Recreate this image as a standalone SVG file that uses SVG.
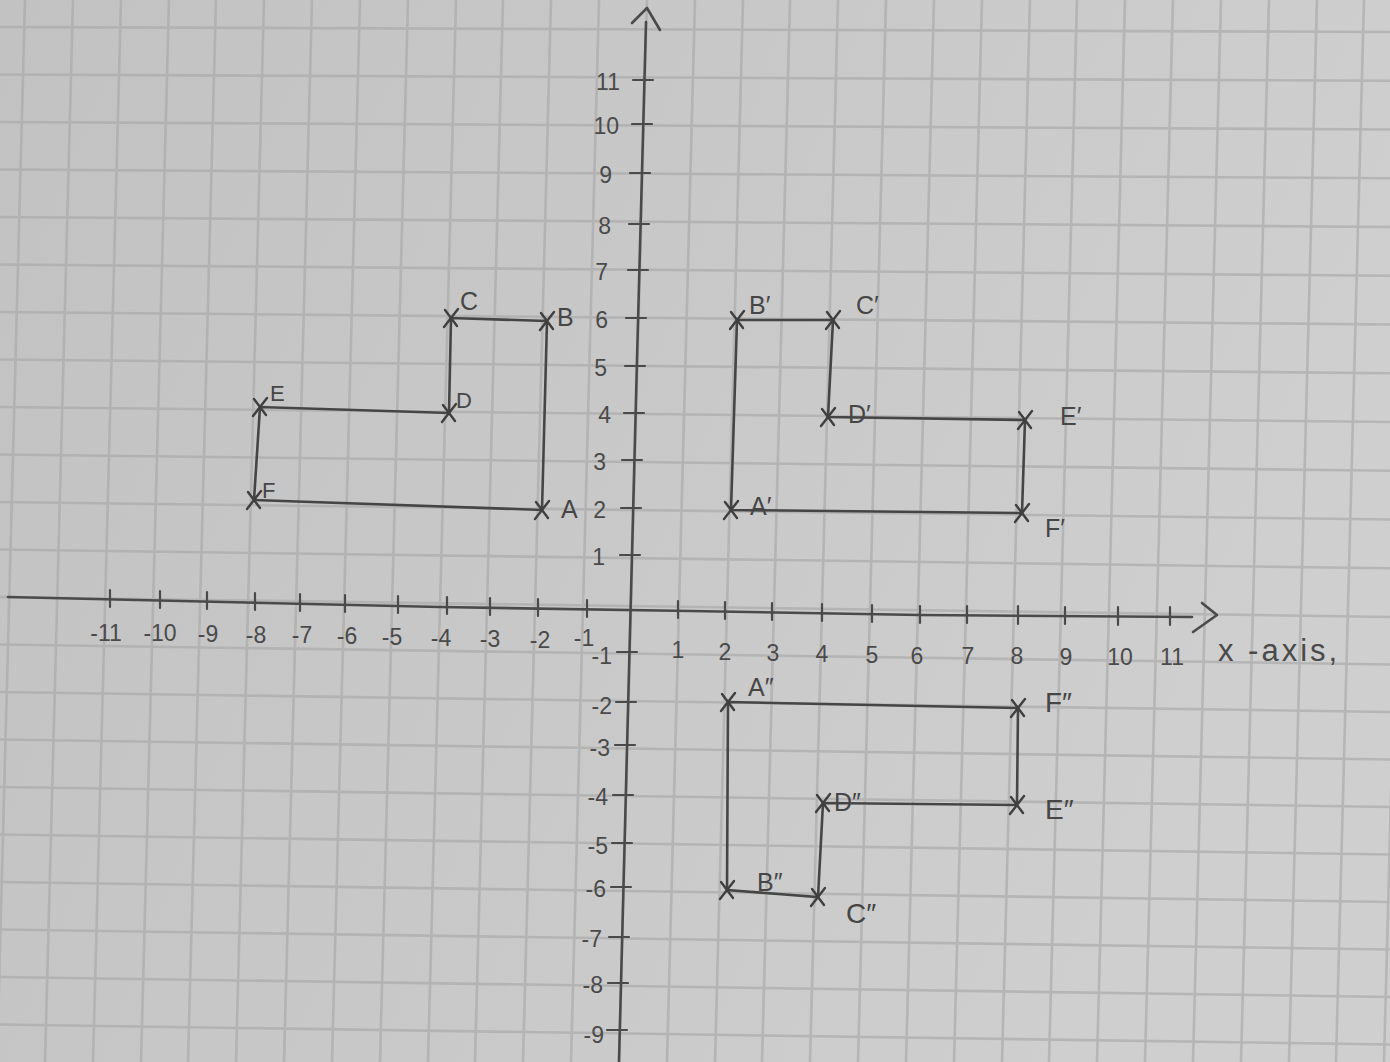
<svg xmlns="http://www.w3.org/2000/svg" width="1390" height="1062" viewBox="0 0 1390 1062">
<defs>
<linearGradient id="paper" x1="0" y1="0" x2="1" y2="0.3">
<stop offset="0" stop-color="#c2c2c2"/>
<stop offset="0.5" stop-color="#c8c8c8"/>
<stop offset="1" stop-color="#cfcfcf"/>
</linearGradient>
<style>
.grid{stroke:#a9a9a9;stroke-width:2.6;fill:none;opacity:0.65}
.axis{stroke:#4a4a4a;stroke-width:2.6;fill:none;stroke-linecap:round;stroke-linejoin:round}
.tick{stroke:#4a4a4a;stroke-width:2.2;fill:none;stroke-linecap:round}
.edge{stroke:#454545;stroke-width:2.6;fill:none;stroke-linecap:round}
.cross{stroke:#3f3f3f;stroke-width:2.4;fill:none;stroke-linecap:round}
.num{font-family:"Liberation Sans",Arial,sans-serif;font-size:23px;fill:#4a4a4a}
.lab{font-family:"Liberation Sans",Arial,sans-serif;font-size:25px;fill:#464646;stroke:none}
.sm{font-size:22px}
.ax{font-family:"Liberation Sans",Arial,sans-serif;font-size:31px;fill:#4a4a4a;letter-spacing:3px}
</style>
</defs>
<rect x="0" y="0" width="1390" height="1062" fill="url(#paper)"/>
<g id="grid" class="grid">
<path d="M25,0 L-3,1062 M73,0 L45,1062 M121,0 L93,1062 M169,0 L141,1062 M216,0 L188,1062 M264,0 L236,1062 M312,0 L284,1062 M360,0 L332,1062 M408,0 L380,1062 M456,0 L428,1062 M503,0 L475,1062 M551,0 L523,1062 M599,0 L571,1062 M647,0 L619,1062 M695,0 L667,1062 M743,0 L715,1062 M790,0 L762,1062 M838,0 L810,1062 M886,0 L858,1062 M934,0 L906,1062 M982,0 L954,1062 M1030,0 L1002,1062 M1077,0 L1049,1062 M1125,0 L1097,1062 M1173,0 L1145,1062 M1221,0 L1193,1062 M1269,0 L1241,1062 M1317,0 L1289,1062 M1364,0 L1336,1062 M1412,0 L1384,1062"/>
<path d="M0,27 L1390,32 M0,74.5 L1390,80.8 M0,122 L1390,129.5 M0,169.5 L1390,178.3 M0,217 L1390,227 M0,264.5 L1390,275.8 M0,312 L1390,324.5 M0,359.5 L1390,373.3 M0,407 L1390,422 M0,454.5 L1390,470.8 M0,502 L1390,519.5 M0,549.5 L1390,568.3 M0,597 L1390,617 M0,644.5 L1390,664.5 M0,692 L1390,712 M0,739.5 L1390,759.5 M0,787 L1390,807 M0,834.5 L1390,854.5 M0,882 L1390,902 M0,929.5 L1390,949.5 M0,977 L1390,997 M0,1024.5 L1390,1044.5"/>
</g>
<g id="axes">
<path id="x-axis" class="axis" d="M8,597 L440,607 L690,611 L920,615 L1192,617"/>
<path class="axis" d="M1202,603 L1217,615 L1193,632"/>
<path id="y-axis" class="axis" d="M646,22 L637,360 L628,710 L619,1062"/>
<path class="axis" d="M632,23 L647,8 L660,30"/>
<g class="tick">
<path d="M110,590 V607 M160,591 V608 M207,592 V609 M255,593 V610 M300,594 V611 M345,595 V612 M398,596 V613 M447,597 V614 M490,598 V615 M538,599 V616 M587,600 V617 M678,601 V618 M725,602 V619 M772,603 V620 M822,604 V621 M872,605 V622 M920,606 V623 M967,606 V623 M1018,606 V624 M1065,607 V624 M1118,607 V625 M1170,607 V625"/>
<path d="M633,80 H653 M632,124 H652 M630,173 H650 M629,224 H649 M628,270 H648 M626,318 H646 M625,366 H645 M624,413 H644 M622,460 H642 M621,508 H641 M620,555 H640 M617,652 H637 M616,702 H636 M615,745 H635 M613,795 H633 M612,843 H632 M611,887 H631 M609,937 H629 M608,983 H628 M607,1030 H627"/>
</g>
<g id="x-labels" class="num" text-anchor="middle">
<text x="106" y="641">-11</text>
<text x="160" y="641">-10</text>
<text x="208" y="642">-9</text>
<text x="256" y="643">-8</text>
<text x="302" y="643">-7</text>
<text x="347" y="644">-6</text>
<text x="392" y="645">-5</text>
<text x="441" y="646">-4</text>
<text x="490" y="647">-3</text>
<text x="540" y="648">-2</text>
<text x="584" y="646">-1</text>
<text x="678" y="658">1</text>
<text x="725" y="660">2</text>
<text x="773" y="661">3</text>
<text x="822" y="662">4</text>
<text x="872" y="663">5</text>
<text x="917" y="664">6</text>
<text x="968" y="664">7</text>
<text x="1017" y="664">8</text>
<text x="1066" y="665">9</text>
<text x="1120" y="665">10</text>
<text x="1172" y="665">11</text>
</g>
<g id="y-labels" class="num" text-anchor="end">
<text x="620" y="90">11</text>
<text x="619" y="134">10</text>
<text x="612" y="183">9</text>
<text x="611" y="234">8</text>
<text x="608" y="280">7</text>
<text x="608" y="328">6</text>
<text x="607" y="376">5</text>
<text x="611" y="423">4</text>
<text x="606" y="470">3</text>
<text x="606" y="518">2</text>
<text x="605" y="565">1</text>
<text x="612" y="664">-1</text>
<text x="612" y="714">-2</text>
<text x="610" y="756">-3</text>
<text x="608" y="805">-4</text>
<text x="608" y="854">-5</text>
<text x="606" y="897">-6</text>
<text x="602" y="947">-7</text>
<text x="603" y="993">-8</text>
<text x="604" y="1043">-9</text>
</g>
<text class="ax" x="1218" y="661">x -axis,</text>
</g>
<g id="connectors">
<path id="shape-original" class="edge" d="M542,510 L547,321 L451,318 L449,413 L260,407 L254,500 Z"/>
<path id="shape-image1" class="edge" d="M731,510 L737,320 L833,320 L828,417 L1025,420 L1022,513 Z"/>
<path id="shape-image2" class="edge" d="M728,702 L1018,708 L1017,805 L823,803 L818,897 L727,890 Z"/>
</g>
<g id="A"><path class="cross" d="M535,519 L549,501 M536,502 L548,518"/><text class="lab" x="561" y="518">A</text></g>
<g id="B"><path class="cross" d="M540,330 L554,312 M541,313 L553,329"/><text class="lab" x="557" y="326">B</text></g>
<g id="C"><path class="cross" d="M444,327 L458,309 M445,310 L457,326"/><text class="lab" x="460" y="310">C</text></g>
<g id="D"><path class="cross" d="M442,422 L456,404 M443,405 L455,421"/><text class="lab sm" x="456" y="408">D</text></g>
<g id="E"><path class="cross" d="M253,416 L267,398 M254,399 L266,415"/><text class="lab sm" x="270" y="401">E</text></g>
<g id="F"><path class="cross" d="M247,509 L261,491 M248,492 L260,508"/><text class="lab sm" x="262" y="498">F</text></g>
<g id="A1"><path class="cross" d="M724,519 L738,501 M725,502 L737,518"/><text class="lab" x="750" y="515">A′</text></g>
<g id="B1"><path class="cross" d="M730,329 L744,311 M731,312 L743,328"/><text class="lab" x="749" y="314">B′</text></g>
<g id="C1"><path class="cross" d="M826,329 L840,311 M827,312 L839,328"/><text class="lab" x="856" y="314">C′</text></g>
<g id="D1"><path class="cross" d="M821,426 L835,408 M822,409 L834,425"/><text class="lab" x="848" y="423">D′</text></g>
<g id="E1"><path class="cross" d="M1018,429 L1032,411 M1019,412 L1031,428"/><text class="lab" x="1060" y="425">E′</text></g>
<g id="F1"><path class="cross" d="M1015,522 L1029,504 M1016,505 L1028,521"/><text class="lab" x="1045" y="537">F′</text></g>
<g id="A2"><path class="cross" d="M721,711 L735,693 M722,694 L734,710"/><text class="lab" x="748" y="696">A″</text></g>
<g id="B2"><path class="cross" d="M720,899 L734,881 M721,882 L733,898"/><text class="lab" x="757" y="891">B″</text></g>
<g id="C2"><path class="cross" d="M811,906 L825,888 M812,889 L824,905"/><text class="lab" x="846" y="923" style="font-size:28px">C″</text></g>
<g id="D2"><path class="cross" d="M816,812 L830,794 M817,795 L829,811"/><text class="lab" x="834" y="811">D″</text></g>
<g id="E2"><path class="cross" d="M1010,814 L1024,796 M1011,797 L1023,813"/><text class="lab" x="1045" y="819" style="font-size:28px">E″</text></g>
<g id="F2"><path class="cross" d="M1011,717 L1025,699 M1012,700 L1024,716"/><text class="lab" x="1045" y="712" style="font-size:28px">F″</text></g>
</svg>
